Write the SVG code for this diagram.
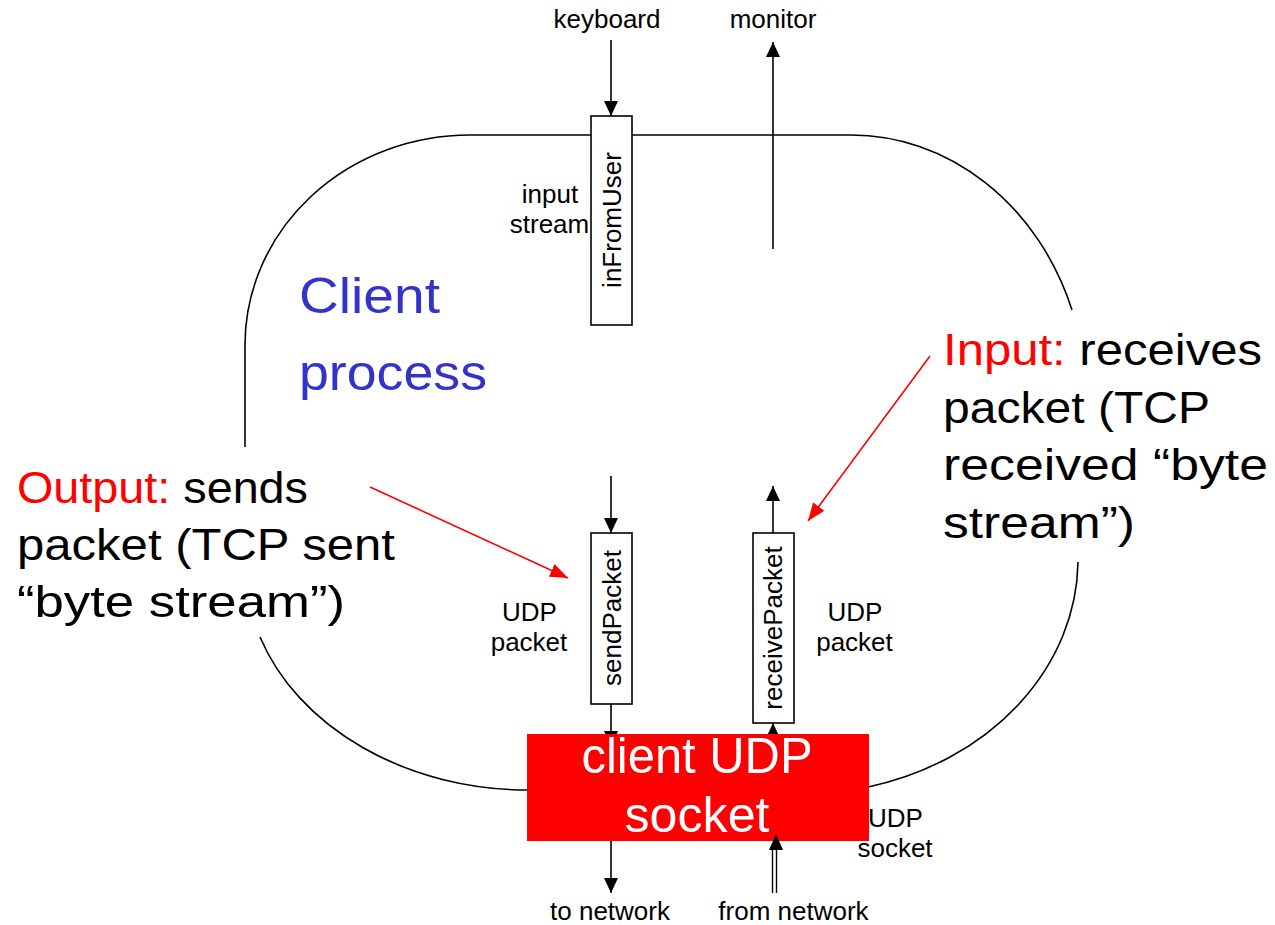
<svg xmlns="http://www.w3.org/2000/svg" width="1275" height="925" viewBox="0 0 1275 925">
  <style>
    .outline { fill: none; stroke: #000; stroke-width: 1.6; }
    .line { fill: none; stroke: #000; stroke-width: 1.6; }
    .red { fill: none; stroke: #f00; stroke-width: 1.6; }
    .box { fill: #fff; stroke: #000; stroke-width: 1.6; }
    .lbl { font-family: "Liberation Sans", Arial, sans-serif; font-size: 26px; fill: #000; }
    .big { font-family: "Liberation Sans", Arial, sans-serif; font-size: 44px; fill: #000; }
    .hl { fill: #f00; }
    .blue { font-family: "Liberation Sans", Arial, sans-serif; font-size: 50px; fill: #3333cc; }
    .sock { font-family: "Liberation Sans", Arial, sans-serif; font-size: 50px; fill: #fff; }
  </style>
  <defs>
    <marker id="ah" markerUnits="userSpaceOnUse" markerWidth="15" markerHeight="14" refX="15" refY="7" orient="auto">
      <path d="M0,0 L15,7 L0,14 z" fill="#000"/>
    </marker>
    <marker id="ahr" markerUnits="userSpaceOnUse" markerWidth="18" markerHeight="14" refX="18" refY="7" orient="auto">
      <path d="M0,0 L18,7 L0,14 z" fill="#f00"/>
    </marker>
  </defs>
  <rect width="1275" height="925" fill="#fff"/>

  <g id="process-outline">
    <path class="outline" d="M245,447 L245,345 A225,210 0 0 1 470,135 L850,135 A235,265 0 0 1 1072,310"/>
    <path class="outline" d="M1078,562 A278,235 0 0 1 868,787"/>
    <path class="outline" d="M260,637 A283,225 0 0 0 528,790"/>
  </g>

  <g id="connectors">
    <line class="line" x1="611" y1="40" x2="611" y2="116" marker-end="url(#ah)"/>
    <line class="line" x1="773" y1="249" x2="773" y2="42" marker-end="url(#ah)"/>
    <line class="line" x1="611" y1="476" x2="611" y2="533" marker-end="url(#ah)"/>
    <line class="line" x1="611" y1="704" x2="611" y2="746" marker-end="url(#ah)"/>
    <line class="line" x1="773" y1="533" x2="773" y2="486" marker-end="url(#ah)"/>
    <line class="line" x1="773" y1="760" x2="773" y2="723" marker-end="url(#ah)"/>
    <line class="line" x1="611" y1="841" x2="611" y2="893" marker-end="url(#ah)"/>
    <line class="red" x1="370" y1="487" x2="568" y2="578" marker-end="url(#ahr)"/>
    <line class="red" x1="930" y1="356" x2="808" y2="521" marker-end="url(#ahr)"/>
  </g>

  <g id="inFromUser">
    <rect class="box" x="591" y="116" width="41" height="209"/>
    <text class="lbl" transform="translate(620.5,220) rotate(-90)" text-anchor="middle">inFromUser</text>
  </g>

  <g id="sendPacket">
    <rect class="box" x="591" y="533" width="41" height="171"/>
    <text class="lbl" transform="translate(620.5,618) rotate(-90)" text-anchor="middle">sendPacket</text>
  </g>

  <g id="receivePacket">
    <rect class="box" x="753" y="533" width="41" height="190"/>
    <text class="lbl" transform="translate(782,628) rotate(-90)" text-anchor="middle">receivePacket</text>
  </g>

  <g id="client-udp-socket">
    <rect x="527" y="734" width="342" height="107" fill="#f00"/>
    <text class="sock" x="697" y="773" text-anchor="middle" textLength="231" lengthAdjust="spacingAndGlyphs">client UDP</text>
    <text class="sock" x="697" y="832" text-anchor="middle" textLength="145" lengthAdjust="spacingAndGlyphs">socket</text>
  </g>

  <g id="from-network-arrow">
    <line class="line" x1="772.5" y1="893" x2="772.5" y2="848" style="stroke-width:1.4"/>
    <line class="line" x1="776.5" y1="893" x2="776.5" y2="848" style="stroke-width:1.4"/>
    <path d="M776,834 L783,850 L769,850 z" fill="#000"/>
  </g>

  <g id="labels">
    <text class="lbl" x="607" y="28" text-anchor="middle">keyboard</text>
    <text class="lbl" x="773" y="28" text-anchor="middle">monitor</text>
    <text class="lbl" x="550" y="203" text-anchor="middle">input</text>
    <text class="lbl" x="549.5" y="233" text-anchor="middle">stream</text>
    <text class="lbl" x="529.5" y="621" text-anchor="middle">UDP</text>
    <text class="lbl" x="529" y="651" text-anchor="middle">packet</text>
    <text class="lbl" x="855" y="621" text-anchor="middle">UDP</text>
    <text class="lbl" x="854.5" y="651" text-anchor="middle">packet</text>
    <text class="lbl" x="895.5" y="827" text-anchor="middle">UDP</text>
    <text class="lbl" x="895" y="857" text-anchor="middle">socket</text>
    <text class="lbl" x="610" y="920" text-anchor="middle">to network</text>
    <text class="lbl" x="793.5" y="920" text-anchor="middle">from network</text>
  </g>

  <g id="client-process">
    <text class="blue" x="299" y="313" textLength="141" lengthAdjust="spacingAndGlyphs">Client</text>
    <text class="blue" x="299" y="390" textLength="188" lengthAdjust="spacingAndGlyphs">process</text>
  </g>

  <g id="output-note">
    <text class="big" x="17" y="503" textLength="291" lengthAdjust="spacingAndGlyphs"><tspan class="hl">Output:</tspan> sends</text>
    <text class="big" x="17" y="560" textLength="378" lengthAdjust="spacingAndGlyphs">packet (TCP sent</text>
    <text class="big" x="17" y="617" textLength="328" lengthAdjust="spacingAndGlyphs">“byte stream”)</text>
  </g>

  <g id="input-note">
    <text class="big" x="943" y="365" textLength="319" lengthAdjust="spacingAndGlyphs"><tspan class="hl">Input:</tspan> receives</text>
    <text class="big" x="943" y="423" textLength="267" lengthAdjust="spacingAndGlyphs">packet (TCP</text>
    <text class="big" x="943" y="480" textLength="325" lengthAdjust="spacingAndGlyphs">received “byte</text>
    <text class="big" x="943" y="538" textLength="192" lengthAdjust="spacingAndGlyphs">stream”)</text>
  </g>
</svg>
